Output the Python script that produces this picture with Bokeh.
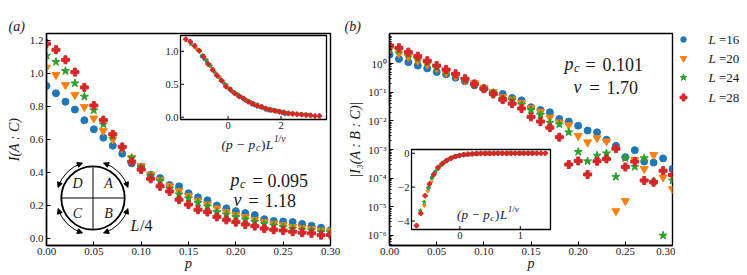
import math
from bokeh.plotting import figure
from bokeh.layouts import row
from bokeh.models import (Range1d, FixedTicker, PrintfTickFormatter, CustomJSTickFormatter,
                          Label, Arrow, NormalHead, ColumnDataSource, LinearScale)
from bokeh.embed import file_html
from bokeh.resources import INLINE
from bokeh.core.properties import value

FONT = "Liberation Serif"
INK = "#1a1a1a"

# ---------------- data ----------------
p_vals = [0.00, 0.01, 0.02, 0.03, 0.04, 0.05, 0.06, 0.07, 0.08, 0.09, 0.10,
          0.11, 0.12, 0.13, 0.14, 0.15, 0.16, 0.17, 0.18, 0.19, 0.20,
          0.21, 0.22, 0.23, 0.24, 0.25, 0.26, 0.27, 0.28, 0.29, 0.30]
system_sizes = [16, 20, 24, 28]
legend_values = ["=16", "=20", "=24", "=28"]

# panel (a): I(A:C)
I_AC_L16 = [0.926, 0.881, 0.830, 0.782, 0.717, 0.662, 0.611, 0.562, 0.514, 0.455, 0.432,
            0.386, 0.365, 0.323, 0.315, 0.273, 0.248, 0.230, 0.198, 0.181, 0.164,
            0.152, 0.140, 0.115, 0.104, 0.101, 0.098, 0.086, 0.075, 0.063, 0.048]
I_AC_L20 = [1.038, 0.993, 0.932, 0.871, 0.798, 0.729, 0.652, 0.601, 0.544, 0.489, 0.439,
            0.388, 0.353, 0.317, 0.286, 0.256, 0.229, 0.205, 0.181, 0.158, 0.140,
            0.128, 0.112, 0.099, 0.089, 0.079, 0.069, 0.063, 0.055, 0.047, 0.043]
I_AC_L24 = [1.110, 1.072, 1.017, 0.942, 0.861, 0.778, 0.692, 0.621, 0.550, 0.489, 0.432,
            0.382, 0.347, 0.300, 0.266, 0.242, 0.215, 0.193, 0.158, 0.144, 0.128,
            0.114, 0.099, 0.087, 0.077, 0.067, 0.057, 0.051, 0.047, 0.037, 0.035]
I_AC_L28 = [1.183, 1.146, 1.085, 1.010, 0.917, 0.807, 0.718, 0.632, 0.555, 0.466, 0.417,
            0.361, 0.315, 0.284, 0.234, 0.204, 0.173, 0.159, 0.129, 0.111, 0.097,
            0.083, 0.073, 0.058, 0.051, 0.046, 0.039, 0.033, 0.029, 0.018, 0.019]

# panel (b): |I3(A:B:C)|
I3_L16 = [2.04, 1.45, 1.12, 0.85, 0.68, 0.51, 0.42, 0.32, 0.24, 0.174, 0.135,
          0.095, 0.087, 0.063, 0.052, 0.030, 0.024, 0.020, 0.0117, 0.0095, 0.0068,
          0.0046, 0.0040, 0.0022, 0.00135, 0.00054, 0.00095, 0.00038, 0.00035, 0.00049, 0.00021]
I3_L20 = [3.09, 2.24, 1.70, 1.26, 0.93, 0.68, 0.48, 0.36, 0.26, 0.214, 0.141,
          0.102, 0.068, 0.056, 0.043, 0.028, 0.021, 0.0132, 0.0089, 0.0071, 0.0030,
          0.0018, 0.0025, 0.00195, 7.1e-6, 1.6e-5, 0.00044, 0.00021, 0.00065, 0.000107, 4.2e-5]
I3_L24 = [3.39, 2.88, 2.04, 1.45, 1.05, 0.74, 0.54, 0.39, 0.275, 0.186, 0.135,
          0.095, 0.059, 0.052, 0.037, 0.024, 0.0162, 0.0087, 0.0076, 0.0040, 0.00083,
          0.00039, 0.00062, 0.00074, 0.000112, 0.00050, 0.00025, 0.00050, 7.6e-5, 1.0e-6, 8.3e-5]
I3_L28 = [4.27, 3.55, 2.51, 1.82, 1.26, 0.85, 0.62, 0.44, 0.295, 0.195, 0.132,
          0.087, 0.055, 0.040, 0.027, 0.0138, 0.0095, 0.0058, 0.0027, 0.00030, 0.00040,
          0.000135, 0.00039, 0.00047, 0.00107, 0.000245, 0.00038, 8.3e-5, 7.2e-5, 0.000182, 0.000129]

PC_A, NU_A = 0.095, 1.18
PC_B, NU_B = 0.101, 1.70

x_ticks = [0.0, 0.05, 0.10, 0.15, 0.20, 0.25, 0.30]
ya_ticks = [0.0, 0.2, 0.4, 0.6, 0.8, 1.0, 1.2]
yb_ticks = [1e-6, 1e-5, 1e-4, 1e-3, 1e-2, 1e-1, 1.0]
ia_xticks, ia_xlabels = [0, 2], ["0", "2"]
ia_yticks, ia_ylabels = [0.0, 0.5, 1.0], ["0.0", "0.5", "1.0"]
ib_xticks, ib_xlabels = [0, 1], ["0", "1"]
ib_yticks, ib_ylabels = [0, -2, -4], ["0", "\u22122", "\u22124"]

I_AC = [I_AC_L16, I_AC_L20, I_AC_L24, I_AC_L28]
I3 = [I3_L16, I3_L20, I3_L24, I3_L28]

colors = ["#1f77b4", "#ff7f0e", "#2ca02c", "#d62728"]
markers = ["circle", "inverted_triangle", "star", "plus"]
main_sizes = [7, 8, 8.5, 8]
inset_sizes = [3.2, 3.6, 4.0, 4.4]
legend_sizes = [5.5, 6.5, 7, 7]

# ---------------- layout (page pixels) ----------------
H, TOP, FH = 275, 33, 212
BOT = H - TOP - FH
WA, LA, FWA = 343, 46, 284
WB, LB, FWB = 332, 46, 283
WL = 747 - WA - WB

A_LEFT, B_LEFT, F_BOTTOM = LA, WA + LB, TOP + FH


def lxa(x):
    return x - A_LEFT


def lxb(x):
    return x - B_LEFT


def ly(y):
    return F_BOTTOM - y


def inset_range(d0, d1, p0, p1, total):
    s = (d1 - d0) / (p1 - p0)
    return d0 - p0 * s, d1 + (total - p1) * s, s


def style(f):
    f.grid.visible = False
    f.outline_line_color = "black"
    f.outline_line_width = 1.4
    f.border_fill_color = "white"
    f.background_fill_color = "white"
    for ax in f.axis:
        ax.axis_line_color = "black"
        ax.axis_line_width = 1.4
        ax.major_tick_in = 4
        ax.major_tick_out = 0
        ax.minor_tick_in = 2
        ax.minor_tick_out = 0
        ax.major_tick_line_color = "black"
        ax.major_label_text_font = FONT
        ax.major_label_text_font_size = "11px"
        ax.major_label_text_color = INK
        ax.major_label_standoff = 3
        ax.axis_label_text_font = FONT
        ax.axis_label_text_font_size = "14px"
        ax.axis_label_text_font_style = "italic"
        ax.axis_label_text_color = INK
    f.xaxis.major_label_standoff = 2
    f.xaxis.axis_label_standoff = -2
    f.title.text_font = FONT
    f.title.text_font_size = "14px"
    f.title.text_font_style = "italic"
    f.title.text_color = INK
    f.title.align = "left"
    f.title.standoff = 0


def put(f, x, y, txt, size, style_="normal", align="left", baseline="alphabetic", angle=0.0,
        xr="px", yr="px"):
    f.add_layout(Label(x=x, y=y, text=txt, x_range_name=xr, y_range_name=yr,
                       text_font=FONT, text_font_size=f"{size}px", text_font_style=style_,
                       text_align=align, text_baseline=baseline, angle=angle, text_color=INK))


WTAB = {'(': 0.333, ')': 0.333, 'p': 0.5, 'c': 0.444, 'L': 0.556, ' ': 0.25,
        '\u2212': 0.675, '1': 0.5, '/': 0.278, '\u03bd': 0.46}


def twidth(s, size):
    return sum(WTAB.get(ch, 0.5) for ch in s) * size


def scaling_label(f, cx, yb, size):
    small = size * 0.7
    pieces = [("(p \u2212 p", size, "italic", 0.0, 0.6),
              ("c", small, "italic", -3.0, 0.8),
              (")", size, "normal", 0.0, 0.5),
              ("L", size, "italic", 0.0, 0.5),
              ("1/\u03bd", small, "italic", 5.5, 0.0)]
    total = sum(twidth(t, s) + g for t, s, _, _, g in pieces)
    x = cx - total / 2
    for t, s, st, dy, g in pieces:
        put(f, x, yb + dy, t, round(s, 1), st)
        x += twidth(t, s) + g


# ================= panel (a) =================
fa = figure(width=WA, height=H, x_range=Range1d(0, 0.30), y_range=Range1d(-0.045, 1.245),
            min_border_left=LA, min_border_right=WA - LA - FWA, min_border_top=TOP,
            min_border_bottom=BOT, toolbar_location=None, output_backend="svg", title="(a)")
style(fa)
fa.title.offset = -38
fa.xaxis.axis_label = "p"
fa.yaxis.axis_label = "I(A : C)"
fa.yaxis.axis_label_standoff = 5
fa.xaxis.ticker = FixedTicker(ticks=x_ticks)
fa.xaxis.formatter = PrintfTickFormatter(format="%.2f")
fa.yaxis.ticker = FixedTicker(ticks=ya_ticks)
fa.yaxis.formatter = PrintfTickFormatter(format="%.1f")
fa.axis.minor_tick_line_color = None

IA_X, IA_Y = (-1.8, 3.72), (-0.035, 1.24)
iax0, iax1, sxa = inset_range(IA_X[0], IA_X[1], lxa(180), lxa(326), FWA)
iay0, iay1, sya = inset_range(IA_Y[0], IA_Y[1], ly(119), ly(35), FH)
fa.extra_x_ranges = {"px": Range1d(0, FWA), "iax": Range1d(iax0, iax1)}
fa.extra_y_ranges = {"px": Range1d(0, FH), "iay": Range1d(iay0, iay1)}

for i in range(4):
    fa.scatter(p_vals, I_AC[i], marker=markers[i], size=main_sizes[i], color=colors[i])

# inset (a)
fa.quad(left=[IA_X[0]], right=[IA_X[1]], bottom=[IA_Y[0]], top=[IA_Y[1]],
        x_range_name="iax", y_range_name="iay", fill_color="white",
        line_color="black", line_width=1.3)
for i, L in enumerate(system_sizes):
    xs = [(p - PC_A) * L ** (1.0 / NU_A) for p in p_vals]
    fa.scatter(xs, I_AC[i], x_range_name="iax", y_range_name="iay",
               marker=markers[i], size=inset_sizes[i], color=colors[i])
fa.segment(x0=ia_xticks, x1=ia_xticks, y0=[IA_Y[0]] * 2, y1=[IA_Y[0] + 3.5 * sya] * 2,
           x_range_name="iax", y_range_name="iay", line_color="black", line_width=1)
fa.segment(x0=[IA_X[0]] * 3, x1=[IA_X[0] + 3.5 * sxa] * 3, y0=ia_yticks, y1=ia_yticks,
           x_range_name="iax", y_range_name="iay", line_color="black", line_width=1)
fa.text(x=ia_xticks, y=[IA_Y[0]] * 2, text=ia_xlabels, x_range_name="iax", y_range_name="iay",
        text_align="center", text_baseline="top", y_offset=2, text_font=value(FONT),
        text_font_size="10.5px", text_color=INK)
fa.text(x=[IA_X[0]] * 3, y=ia_yticks, text=ia_ylabels, x_range_name="iax", y_range_name="iay",
        text_align="right", text_baseline="middle", x_offset=-2, text_font=value(FONT),
        text_font_size="10.5px", text_color=INK)
scaling_label(fa, lxa(253), ly(144), 13.5)

# circle diagram
cx, cy, rc, ra = lxa(92.5), ly(197.5), 31.7, 36.5
fa.circle(x=[cx], y=[cy], radius=rc, x_range_name="px", y_range_name="px",
          fill_color=None, line_color="black", line_width=1.8)
fa.segment(x0=[cx - rc, cx], y0=[cy, cy - rc], x1=[cx + rc, cx], y1=[cy, cy + rc],
           x_range_name="px", y_range_name="px", line_color="black", line_width=1)
quads = [(17, 73), (107, 163), (197, 253), (287, 343)]
fa.arc(x=[cx] * 4, y=[cy] * 4, radius=ra,
       start_angle=[math.radians(a) for a, _ in quads],
       end_angle=[math.radians(b) for _, b in quads],
       x_range_name="px", y_range_name="px", line_color="black", line_width=1)
ax0, ay0, ax1, ay1 = [], [], [], []
for a0, a1 in quads:
    for tip, back in ((a1, a1 - 9), (a0, a0 + 9)):
        ax1.append(cx + ra * math.cos(math.radians(tip)))
        ay1.append(cy + ra * math.sin(math.radians(tip)))
        ax0.append(cx + ra * math.cos(math.radians(back)))
        ay0.append(cy + ra * math.sin(math.radians(back)))
fa.add_layout(Arrow(source=ColumnDataSource(dict(x0=ax0, y0=ay0, x1=ax1, y1=ay1)),
                    x_start="x0", y_start="y0", x_end="x1", y_end="y1",
                    x_range_name="px", y_range_name="px", line_alpha=0,
                    end=NormalHead(size=5, fill_color="black", line_color="black", line_width=1)))
for letter, dx, dy in (("D", -15.5, 14.5), ("A", 15.5, 14.5), ("C", -15.5, -15.5), ("B", 15.5, -15.5)):
    put(fa, cx + dx, cy + dy, letter, 14, "italic", "center", "middle")
put(fa, lxa(130), ly(225), "L", 16, "italic", "left", "middle")
put(fa, lxa(139.5), ly(225), "/4", 16, "normal", "left", "middle")

# annotation (a)
put(fa, lxa(230), ly(179.5), "p", 18, "italic")
put(fa, lxa(239.5), ly(183), "c", 12.6, "italic")
put(fa, lxa(257), ly(179.5), "=", 19, "normal", "center")
put(fa, lxa(267), ly(179.5), "0.095", 18)
put(fa, lxa(233), ly(199.5), "\u03bd", 18, "italic")
put(fa, lxa(253), ly(199.5), "=", 19, "normal", "center")
put(fa, lxa(264), ly(199.5), "1.18", 18)

# ================= panel (b) =================
fb = figure(width=WB, height=H, x_range=Range1d(0, 0.30),
            y_range=Range1d(10 ** -6.35, 10 ** 1.05), y_axis_type="log",
            min_border_left=LB, min_border_right=WB - LB - FWB, min_border_top=TOP,
            min_border_bottom=BOT, toolbar_location=None, output_backend="svg", title="(b)")
style(fb)
fb.title.offset = -45
fb.xaxis.axis_label = "p"
fb.yaxis.axis_label = "|I\u2083(A : B : C)|"
fb.yaxis.axis_label_standoff = 2
fb.xaxis.ticker = FixedTicker(ticks=x_ticks)
fb.xaxis.formatter = PrintfTickFormatter(format="%.2f")
fb.xaxis.minor_tick_line_color = None
fb.yaxis.ticker = FixedTicker(ticks=yb_ticks,
                              minor_ticks=[k * 10.0 ** e for e in range(-7, 1) for k in range(2, 10)])
fb.yaxis.minor_tick_line_color = "black"
fb.yaxis.formatter = CustomJSTickFormatter(code="""
const e = Math.round(Math.log10(tick));
const m = {"-":"\u207b","0":"\u2070","1":"\u00b9","2":"\u00b2","3":"\u00b3","4":"\u2074",
           "5":"\u2075","6":"\u2076","7":"\u2077","8":"\u2078","9":"\u2079"};
return "10" + String(e).split("").map(c => m[c]).join("");
""")

IB_X, IB_Y = (-0.8, 1.5), (-4.5, 0.22)
ibx0, ibx1, sxb = inset_range(IB_X[0], IB_X[1], lxb(411), lxb(550), FWB)
iby0, iby1, syb = inset_range(IB_Y[0], IB_Y[1], ly(229), ly(149), FH)
fb.extra_x_ranges = {"px": Range1d(0, FWB), "ibx": Range1d(ibx0, ibx1)}
fb.extra_y_ranges = {"px": Range1d(0, FH), "iby": Range1d(iby0, iby1)}
fb.extra_x_scales = {"px": LinearScale(), "ibx": LinearScale()}
fb.extra_y_scales = {"px": LinearScale(), "iby": LinearScale()}

for i in range(4):
    fb.scatter(p_vals, I3[i], marker=markers[i], size=main_sizes[i], color=colors[i])

fb.quad(left=[IB_X[0]], right=[IB_X[1]], bottom=[IB_Y[0]], top=[IB_Y[1]],
        x_range_name="ibx", y_range_name="iby", fill_color="white",
        line_color="black", line_width=1.3)
for i, L in enumerate(system_sizes):
    xs = [(p - PC_B) * L ** (1.0 / NU_B) for p in p_vals]
    ys = [-v for v in I3[i]]
    fb.scatter(xs, ys, x_range_name="ibx", y_range_name="iby",
               marker=markers[i], size=inset_sizes[i], color=colors[i])
fb.segment(x0=ib_xticks, x1=ib_xticks, y0=[IB_Y[0]] * 2, y1=[IB_Y[0] + 3.5 * syb] * 2,
           x_range_name="ibx", y_range_name="iby", line_color="black", line_width=1)
fb.segment(x0=[IB_X[0]] * 3, x1=[IB_X[0] + 3.5 * sxb] * 3, y0=ib_yticks, y1=ib_yticks,
           x_range_name="ibx", y_range_name="iby", line_color="black", line_width=1)
fb.text(x=ib_xticks, y=[IB_Y[0]] * 2, text=ib_xlabels, x_range_name="ibx", y_range_name="iby",
        text_align="center", text_baseline="top", y_offset=2, text_font=value(FONT),
        text_font_size="10.5px", text_color=INK)
fb.text(x=[IB_X[0]] * 3, y=ib_yticks, text=ib_ylabels, x_range_name="ibx", y_range_name="iby",
        text_align="right", text_baseline="middle", x_offset=-2, text_font=value(FONT),
        text_font_size="10.5px", text_color=INK)
scaling_label(fb, lxb(487.5), ly(214), 13)

# annotation (b)
put(fb, lxb(564), ly(63.5), "p", 18, "italic")
put(fb, lxb(573.5), ly(67), "c", 12.6, "italic")
put(fb, lxb(590), ly(63.5), "=", 19, "normal", "center")
put(fb, lxb(602), ly(63.5), "0.101", 18)
put(fb, lxb(573), ly(86.5), "\u03bd", 18, "italic")
put(fb, lxb(594), ly(86.5), "=", 19, "normal", "center")
put(fb, lxb(606), ly(86.5), "1.70", 18)

# ================= legend strip (its frame is aligned with the panels' frames) =================
fl = figure(width=WL, height=H, x_range=Range1d(0, WL), y_range=Range1d(F_BOTTOM, TOP),
            toolbar_location=None, output_backend="svg", min_border=0,
            x_axis_location=None, y_axis_location=None)
fl.grid.visible = False
fl.outline_line_color = None
fl.border_fill_color = "white"
legend_rows = [39, 58, 77, 97]
for i in range(4):
    fl.scatter([8], [legend_rows[i]], marker=markers[i], size=legend_sizes[i], color=colors[i])
fl.text(x=[33] * 4, y=legend_rows, text=["L"] * 4, text_font=value(FONT), text_font_size="13px",
        text_font_style="italic", text_baseline="middle", text_color=INK)
fl.text(x=[43.5] * 4, y=legend_rows, text=legend_values, text_font=value(FONT),
        text_font_size="13px", text_baseline="middle", text_color=INK)

layout = row(fa, fb, fl)
open("out.html", "w").write(file_html(layout, INLINE))
